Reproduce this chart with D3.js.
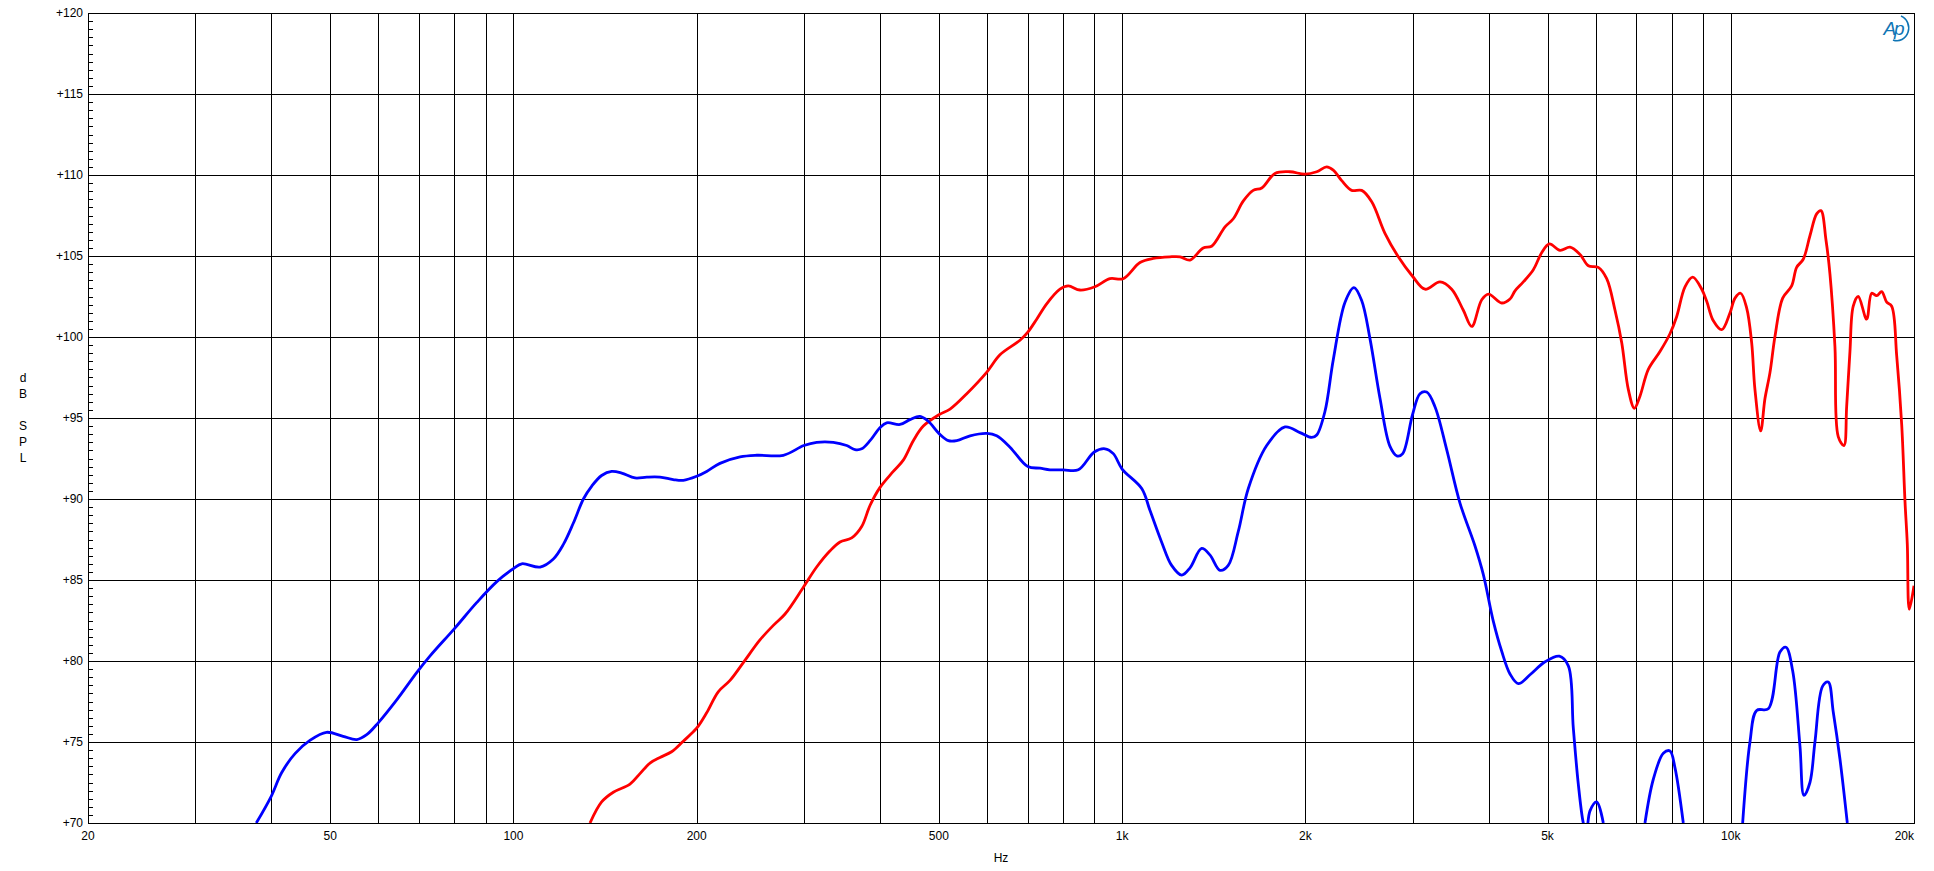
<!DOCTYPE html>
<html>
<head>
<meta charset="utf-8">
<script src="https://cdn.jsdelivr.net/npm/d3@7/dist/d3.min.js"></script>
<style>
body { margin: 0; background: #fff; }
text { font-family: "Liberation Sans", Arial, sans-serif; font-size: 12px; fill: #000; }
</style>
</head>
<body>
<div id="chart"></div>
<script>
// blue trace (Hz / dB SPL), null = below the plot floor
var blueHz = [37.8, 40, 41.6, 43.8, 46.3, 49.3, 52.5, 55.3, 57.4, 60, 64.3, 69.4, 72.9, 80, 87, 93.9, 100, 103.2, 110.6,
  116.3, 120.8, 125.4, 130.3, 134.5, 139.6, 145, 150.6, 158.4, 165.6, 174.1, 183, 190.1, 200, 207.7, 218.4, 235.7, 251,
  277.6, 300, 314.9, 335.4, 352.8, 364.1, 373.4, 385.3, 400, 410.4, 431.6, 448.2, 465.5, 480.4, 500, 518.3, 535, 562.6,
  600, 622.2, 654.3, 700, 732.9, 761.2, 800, 847.3, 900, 937.4, 967.3, 1000, 1077, 1111, 1161, 1206, 1253, 1293, 1351,
  1394, 1448, 1494, 1552, 1612, 1728, 1852, 1960, 2049, 2088, 2154, 2223, 2324, 2404, 2475, 2554, 2653, 2755, 2832, 2891,
  3000, 3086, 3165, 3266, 3414, 3590, 3800, 3921, 4073, 4204, 4338, 4477, 4679, 4953, 5228, 5409, 5512, 5617, 5724, 5790,
  5871, 6022, 6174, 6600, 7228, 7460, 7748, 7946, 8098, 8356, 9500, 10460, 10753, 11029, 11524, 12045, 12322, 12638,
  12992, 13190, 13492, 13750, 14156, 14460, 14736, 15114, 15540];
var blueDb = [70, 71.65, 73.1, 74.3, 75.1, 75.6, 75.35, 75.15, 75.45, 76.2, 77.6, 79.3, 80.3, 82.0, 83.6, 84.9, 85.7, 86.0, 85.8,
  86.3, 87.2, 88.5, 90.0, 90.8, 91.45, 91.7, 91.6, 91.3, 91.35, 91.35, 91.2, 91.15, 91.4, 91.7, 92.2, 92.6, 92.7,
  92.7, 93.3, 93.5, 93.5, 93.3, 93.05, 93.1, 93.6, 94.4, 94.7, 94.6, 94.9, 95.1, 94.8, 94.05, 93.6, 93.6, 93.9,
  94.05, 93.9, 93.2, 92.0, 91.9, 91.8, 91.8, 91.8, 92.9, 93.1, 92.8, 91.85, 90.65, 89.3, 87.35, 85.9, 85.3, 85.75, 86.95,
  86.55, 85.6, 85.9, 88.0, 90.65, 93.3, 94.45, 94.1, 93.8, 93.95, 95.4, 98.6, 102.15, 103.05, 102.25, 99.9, 96.2, 93.25, 92.65, 92.8,
  95.2, 96.5, 96.6, 95.7, 93.05, 89.75, 87.1, 85.35, 82.45, 80.6, 79.2, 78.6, 79.15, 79.95, 80.3, 79.7, 75.85, 72.4, 70, 69.4,
  70.75, 71.3, 70, null, 70, 72.7, 74.3, 74.45, 73.4, 70, null, 70, 75.0, 76.95, 77.05, 80.55, 80.85, 79.4,
  74.75, 71.7, 72.5, 75.0, 78.45, 78.7, 76.85, 73.95, 70];

// red trace (Hz / dB SPL)
var redHz = [133.6, 139.6, 145.9, 155.4, 161.4, 167.6, 174.1, 181.9, 190.1, 200, 207.7, 217, 226.9, 238.6, 254.1, 267.3,
  279.4, 300, 314.9, 331.3, 344, 359.6, 373.4, 385.3, 400, 420.8, 437, 453.9, 471.4, 500, 521.6, 555.6, 600, 630, 679.6,
  700, 723.9, 751.8, 790.5, 815.8, 852.7, 902.2, 955, 1004, 1070, 1125, 1198, 1245, 1293, 1359, 1403, 1476, 1523, 1582,
  1642, 1696, 1783, 1887, 1997, 2088, 2168, 2223, 2295, 2383, 2475, 2571, 2703, 2843, 3000, 3145, 3329, 3479, 3636, 3753,
  3898, 4000, 4204, 4338, 4421, 4562, 4738, 4890, 5034, 5242, 5444, 5653, 5834, 6058, 6254, 6454, 6620, 6788, 6944, 7093,
  7320, 7650, 7945, 8148, 8410, 8660, 8960, 9130, 9362, 9664, 9972, 10162, 10380, 10618, 10822, 10958, 11197, 11381,
  11598, 11821, 12170, 12590, 12830, 13154, 13492, 13838, 14065, 14334, 14552, 14830, 15016, 15344, 15502, 15696, 15893,
  16197, 16720, 17040, 17366, 17698, 18037, 18381, 18732, 19090, 19330, 19500, 19646, 20000];
var redDb = [70, 71.3, 71.9, 72.4, 73.05, 73.7, 74.05, 74.4, 75.05, 75.85, 76.8, 78.1, 78.8, 79.9, 81.3, 82.2,
  82.9, 84.6, 85.8, 86.8, 87.35, 87.6, 88.3, 89.6, 90.7, 91.7, 92.4, 93.6, 94.5, 95.2, 95.55, 96.5, 97.85, 98.9, 99.8,
  100.3, 101.1, 102.05, 102.95, 103.15, 102.9, 103.1, 103.6, 103.6, 104.6, 104.85, 104.95, 104.95, 104.75, 105.5, 105.6, 106.8, 107.3, 108.4,
  109.05, 109.2, 110.1, 110.2, 110.05, 110.2, 110.5, 110.3, 109.65, 109.05, 109.05, 108.35, 106.4, 104.95, 103.75, 102.95, 103.4, 102.95, 101.65, 100.65,
  102.3, 102.65, 102.1, 102.35, 102.85, 103.4, 104.15, 105.2, 105.75, 105.35, 105.55, 105.1, 104.4, 104.3, 103.6, 101.65, 99.65, 96.75, 95.6, 96.35,
  98.0, 99.1, 100.2, 101.25, 103.1, 103.7, 102.95, 102.2, 101.0, 100.45, 101.5, 102.4, 102.7, 101.8, 99.65, 96.75, 94.2, 96.2,
  97.8, 100.05, 102.4, 103.15, 104.3, 104.8, 106.25, 107.6, 107.8, 106.0, 103.9, 99.4, 93.85, 93.3, 95.7, 99.1, 101.9,
  102.5, 101.1, 102.7, 102.55, 102.8, 102.15, 101.9, 98.85, 94.6, 89.85, 87.2, 83.2, 84.65];

var dbTicks = [70, 75, 80, 85, 90, 95, 100, 105, 110, 115, 120];
var hzLabels = [20, 50, 100, 200, 500, 1000, 2000, 5000, 10000, 20000];
var hzNames = ["20", "50", "100", "200", "500", "1k", "2k", "5k", "10k", "20k"];
var yTitle = ["d", "B", " ", "S", "P", "L"];

var margin = {top: 13, bottom: 48, right: 20, left: 88},
    width = 1934 - margin.left - margin.right,
    height = 871 - margin.top - margin.bottom;

var root = d3.select("#chart")
.append("svg")
.attr("width", width + margin.left + margin.right)
.attr("height", height + margin.top + margin.bottom)
.style("display", "block");

var svg = root.append("g")
.attr("transform", "translate(" + margin.left + "," + margin.top + ")");

var x = d3.scaleLog()
.domain([20, 20000])
.range([0, width]);

var y = d3.scaleLinear()
.domain([70, 120])
.range([height, 0]);

//grid
svg.append("g")
.selectAll("line")
.data(x.ticks())
.enter()
.append("line")
.attr("x1", function(d){return Math.round(x(d)) + 0.5})
.attr("x2", function(d){return Math.round(x(d)) + 0.5})
.attr("y1", 0)
.attr("y2", height)
.attr("stroke", "#000")
.attr("stroke-width", 1);

svg.append("g")
.selectAll("line")
.data(dbTicks)
.enter()
.append("line")
.attr("x1", 0)
.attr("x2", width)
.attr("y1", function(d){return Math.round(y(d)) + 0.5})
.attr("y2", function(d){return Math.round(y(d)) + 0.5})
.attr("stroke", "#000")
.attr("stroke-width", 1);

//minor ticks every 0.5 dB on the left edge
svg.append("g")
.selectAll("line")
.data(d3.range(70, 120.01, 0.5))
.enter()
.append("line")
.attr("x1", 0)
.attr("x2", 5)
.attr("y1", function(d){return Math.round(y(d)) + 0.5})
.attr("y2", function(d){return Math.round(y(d)) + 0.5})
.attr("stroke", "#000");

svg.append("rect")
.attr("x", 0.5)
.attr("y", 0.5)
.attr("width", width)
.attr("height", height)
.attr("fill", "none")
.attr("stroke", "#000");

//traces
svg.append("clipPath")
.attr("id", "plotclip")
.append("rect")
.attr("width", width)
.attr("height", height);

var line = d3.line()
.defined(function(d){return d.db !== null})
.x(function(d){return x(d.hz)})
.y(function(d){return y(d.db)})
.curve(d3.curveCatmullRom.alpha(0.5));

var toPoints = function(hz, db){
    return hz.map(function(h, i){return {hz: h, db: db[i]}});
};

svg.append("path")
.datum(toPoints(redHz, redDb))
.attr("clip-path", "url(#plotclip)")
.attr("fill", "none")
.attr("stroke", "#ff0000")
.attr("stroke-width", 2.8)
.attr("stroke-linejoin", "round")
.attr("d", line);

svg.append("path")
.datum(toPoints(blueHz, blueDb))
.attr("clip-path", "url(#plotclip)")
.attr("fill", "none")
.attr("stroke", "#0000ff")
.attr("stroke-width", 2.8)
.attr("stroke-linejoin", "round")
.attr("d", line);

//labels
svg.append("g")
.selectAll("text")
.data(dbTicks)
.enter()
.append("text")
.attr("x", -5)
.attr("y", function(d){return y(d)})
.attr("dy", "0.36em")
.attr("text-anchor", "end")
.text(function(d){return "+" + d});

svg.append("g")
.selectAll("text")
.data(hzLabels)
.enter()
.append("text")
.attr("x", function(d, i){return i === hzLabels.length - 1 ? x(d) : x(d)})
.attr("y", height + 13)
.attr("dy", "0.36em")
.attr("text-anchor", function(d, i){return i === hzLabels.length - 1 ? "end" : "middle"})
.text(function(d, i){return hzNames[i]});

svg.append("text")
.attr("x", width / 2)
.attr("y", height + 35)
.attr("dy", "0.36em")
.attr("text-anchor", "middle")
.text("Hz");

svg.append("g")
.selectAll("text")
.data(yTitle)
.enter()
.append("text")
.attr("x", 23 - margin.left)
.attr("y", function(d, i){return height / 2 + (i - 2.5) * 16})
.attr("dy", "0.36em")
.attr("text-anchor", "middle")
.text(function(d){return d});

//Ap logo
var logo = svg.append("g")
.attr("transform", "translate(" + (width - 21) + ",22)");
logo.append("text")
.attr("x", 0)
.attr("y", 0)
.attr("text-anchor", "middle")
.style("font-size", "19px")
.style("font-style", "italic")
.style("letter-spacing", "-2px")
.style("fill", "#0f75b5")
.text("Ap");
logo.append("path")
.attr("d", "M8,-19 A11,12 0 0 1 0,5")
.attr("fill", "none")
.attr("stroke", "#0f75b5")
.attr("stroke-width", 1.6);
</script>
</body>
</html>
